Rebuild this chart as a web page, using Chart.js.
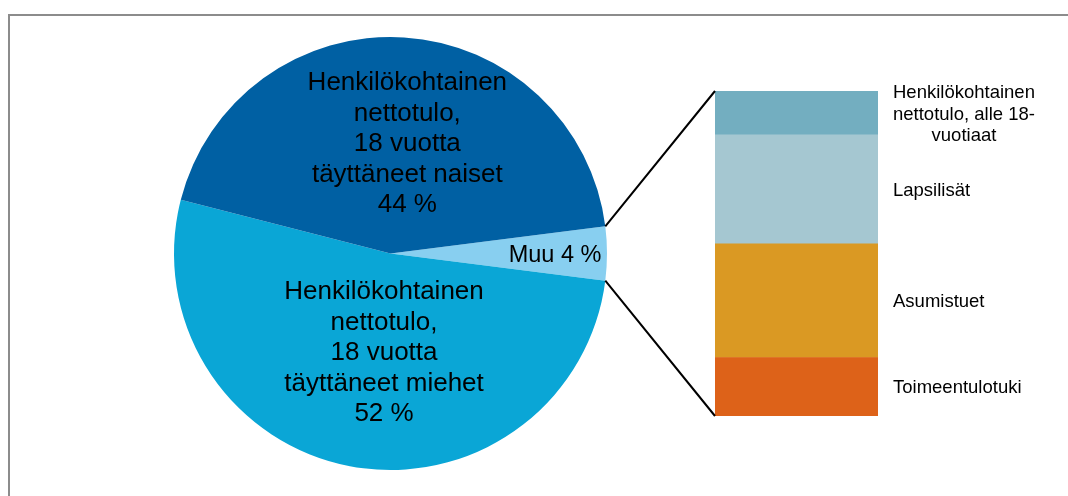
<!DOCTYPE html>
<html>
<head>
<meta charset="utf-8">
<script src="https://cdn.jsdelivr.net/npm/chart.js@4.4.1/dist/chart.umd.min.js"></script>
<style>
  html, body { margin: 0; padding: 0; background: #fff; overflow: hidden; }
  #wrap { position: relative; width: 1068px; height: 496px; }
  #frame { position: absolute; left: 8px; top: 14px; width: 1100px; height: 600px;
           border: 2px solid #8c8c8c; box-sizing: border-box; }
  canvas { position: absolute; left: 0; top: 0; }
</style>
</head>
<body>
<div id="wrap">
  <div id="frame"></div>
  <canvas id="pieCanvas" width="1068" height="496"></canvas>
  <canvas id="barCanvas" width="1068" height="496"></canvas>
</div>
<script>
// pie: order is clockwise starting from the "Muu" slice
const pieLabels = [
    ["Muu 4 %"],
    ["Henkilökohtainen", "nettotulo,", "18 vuotta", "täyttäneet miehet", "52 %"],
    ["Henkilökohtainen", "nettotulo,", "18 vuotta", "täyttäneet naiset", "44 %"],
];
const pieValues = [4, 52, 44];
const pieColors = ["#88cff0", "#0aa6d6", "#0060a3"];

// bar: breakdown of "Muu", stacked from bottom to top
const barLabels = [
    ["Toimeentulotuki"],
    ["Asumistuet"],
    ["Lapsilisät"],
    ["Henkilökohtainen", "nettotulo, alle 18-", "vuotiaat"],
];
const barValues = [0.72, 1.4, 1.34, 0.54];
const barColors = ["#dd6219", "#da9923", "#a5c7d1", "#73aec0"];

const FONT = '"Liberation Sans", Arial, sans-serif';

// where each pie label sits: fraction of radius + angle nudge (deg)
const pieLabelPlace = [
    { f: 0.76, da: 0, size: 23.5 },
    { f: 0.45, da: -7, size: 26 },
    { f: 0.52, da: 5, size: 26 },
];

function drawLines(ctx, lines, cx, cy, size, lh, align) {
    ctx.font = size + "px " + FONT;
    ctx.fillStyle = "#000";
    ctx.textBaseline = "alphabetic";
    ctx.textAlign = align;
    const first = cy - ((lines.length - 1) * lh) / 2 + 0.358 * size;
    lines.forEach((t, i) => ctx.fillText(t, cx, first + i * lh));
}

const pieTotal = pieValues.reduce((a, b) => a + b, 0);

const pieLabelPlugin = {
    id: "pieLabels",
    afterDatasetsDraw(chart) {
        const ctx = chart.ctx;
        const arcs = chart.getDatasetMeta(0).data;
        ctx.save();
        arcs.forEach((arc, i) => {
            const p = arc.getProps(["x", "y", "startAngle", "endAngle", "outerRadius"]);
            const place = pieLabelPlace[i];
            const mid = (p.startAngle + p.endAngle) / 2 + (place.da * Math.PI) / 180;
            const r = p.outerRadius * place.f;
            drawLines(ctx, pieLabels[i], p.x + r * Math.cos(mid), p.y + r * Math.sin(mid),
                place.size, 30.5, "center");
        });
        ctx.restore();
    },
};

const pieChart = new Chart(document.getElementById("pieCanvas"), {
    type: "pie",
    data: {
        labels: pieLabels.map((l) => l.join(" ")),
        datasets: [{
            data: pieValues,
            backgroundColor: pieColors,
            borderWidth: 0,
        }],
    },
    options: {
        responsive: false,
        animation: false,
        rotation: 90 - (pieValues[0] / pieTotal) * 180,
        layout: { padding: { left: 174, top: 37, right: 461, bottom: 26 } },
        plugins: {
            legend: { display: false },
            tooltip: { enabled: false },
        },
    },
    plugins: [pieLabelPlugin],
});

const barLabelPlugin = {
    id: "barLabels",
    afterDatasetsDraw(chart) {
        const ctx = chart.ctx;
        const area = chart.chartArea;
        ctx.save();

        // connector lines from the "Muu" slice to the bar
        const muu = pieChart.getDatasetMeta(0).data[0]
            .getProps(["x", "y", "startAngle", "endAngle", "outerRadius"]);
        ctx.strokeStyle = "#000";
        ctx.lineWidth = 2;
        ctx.beginPath();
        ctx.moveTo(muu.x + muu.outerRadius * Math.cos(muu.startAngle),
                   muu.y + muu.outerRadius * Math.sin(muu.startAngle));
        ctx.lineTo(area.left, area.top);
        ctx.moveTo(muu.x + muu.outerRadius * Math.cos(muu.endAngle),
                   muu.y + muu.outerRadius * Math.sin(muu.endAngle));
        ctx.lineTo(area.left, area.bottom);
        ctx.stroke();

        // segment labels to the right of the bar
        const size = 18.5;
        ctx.font = size + "px " + FONT;
        const x0 = area.right + 15;
        barLabels.forEach((lines, i) => {
            const el = chart.getDatasetMeta(i).data[0].getProps(["y", "base"]);
            const cy = (el.y + el.base) / 2;
            if (lines.length > 1) {
                ctx.font = size + "px " + FONT;
                const w = Math.max(...lines.map((t) => ctx.measureText(t).width));
                drawLines(ctx, lines, x0 + w / 2, cy, size, 21.5, "center");
            } else {
                drawLines(ctx, lines, x0, cy, size, 21.5, "left");
            }
        });
        ctx.restore();
    },
};

new Chart(document.getElementById("barCanvas"), {
    type: "bar",
    data: {
        labels: [""],
        datasets: barValues.map((v, i) => ({
            label: barLabels[i].join(" "),
            data: [v],
            backgroundColor: barColors[i],
            borderWidth: 0,
            barPercentage: 1,
            categoryPercentage: 1,
        })),
    },
    options: {
        responsive: false,
        animation: false,
        layout: { padding: { left: 715, top: 91, right: 190, bottom: 80 } },
        scales: {
            x: { display: false, stacked: true },
            y: { display: false, stacked: true, min: 0,
                 max: barValues.reduce((a, b) => a + b, 0) },
        },
        plugins: {
            legend: { display: false },
            tooltip: { enabled: false },
        },
    },
    plugins: [barLabelPlugin],
});
</script>
</body>
</html>
